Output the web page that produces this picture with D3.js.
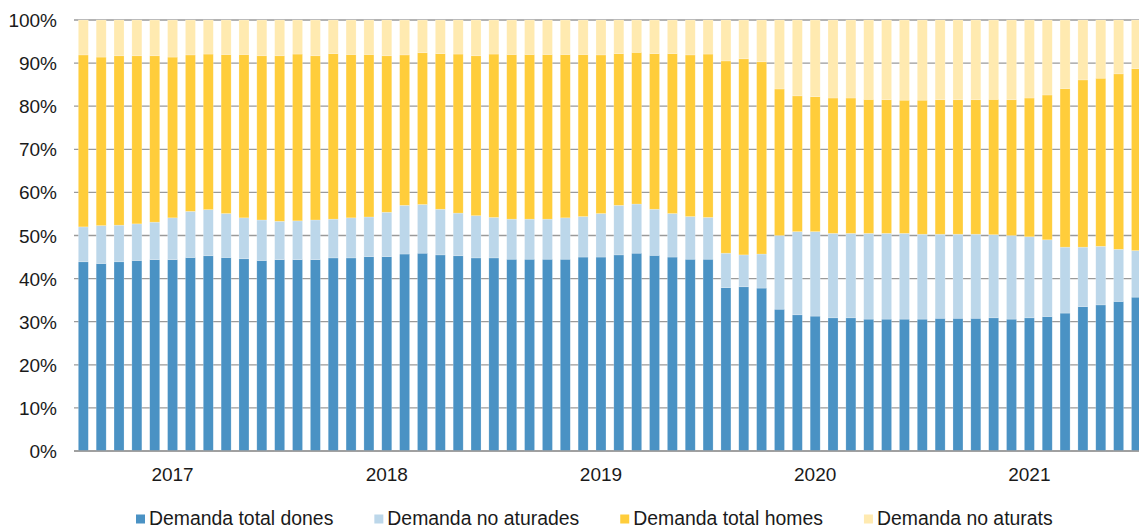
<!DOCTYPE html>
<html>
<head>
<meta charset="utf-8">
<script src="https://cdn.jsdelivr.net/npm/d3@7"></script>
<style>
  html, body { margin: 0; padding: 0; background: #fff; }
  svg { display: block; }
  text { font-family: "Liberation Sans", Arial, sans-serif; fill: #1a1a1a; }
</style>
</head>
<body>
<div id="chart"></div>
<script>
// ---- Data (shares, %), monthly Jan 2017 - Dec 2021 ----
const years = ["2017", "2018", "2019", "2020", "2021"];
const monthsPerYear = 12;
const months = years.flatMap(y => d3.range(1, 13).map(m => y + "-" + String(m).padStart(2, "0")));

const seriesNames = ["Demanda total dones", "Demanda no aturades", "Demanda total homes", "Demanda no aturats"];
const seriesColors = ["#4a92c4", "#bcd7ea", "#ffcd3b", "#ffeab0"];

const demandaTotalDones = [
  43.9, 43.5, 43.9, 44.2, 44.4, 44.4, 44.9, 45.3, 44.9, 44.6, 44.2, 44.4,
  44.4, 44.4, 44.8, 44.8, 45.1, 45.1, 45.7, 45.9, 45.5, 45.3, 44.8, 44.8,
  44.5, 44.5, 44.5, 44.5, 45.0, 45.0, 45.5, 45.9, 45.4, 45.0, 44.5, 44.5,
  37.9, 38.1, 37.8, 32.9, 31.6, 31.3, 30.9, 30.9, 30.6, 30.6, 30.6, 30.6,
  30.8, 30.8, 30.8, 30.9, 30.6, 30.9, 31.2, 32.0, 33.5, 33.9, 34.7, 35.7
];
const demandaNoAturades = [
  8.1, 8.8, 8.5, 8.5, 8.7, 9.7, 10.7, 10.7, 10.2, 9.5, 9.4, 8.9,
  9.0, 9.2, 9.0, 9.3, 9.2, 10.3, 11.3, 11.3, 10.6, 9.9, 9.8, 9.4,
  9.3, 9.3, 9.3, 9.6, 9.4, 10.1, 11.5, 11.4, 10.7, 10.1, 9.9, 9.7,
  8.0, 7.4, 7.9, 17.1, 19.3, 19.6, 19.6, 19.6, 19.9, 19.9, 19.9, 19.7,
  19.5, 19.5, 19.5, 19.3, 19.4, 18.8, 17.8, 15.3, 13.8, 13.6, 12.1, 10.8
];
const demandaTotalHomes = [
  39.9, 39.1, 39.3, 39.0, 38.6, 37.3, 36.3, 36.1, 36.9, 37.9, 38.1, 38.4,
  38.7, 38.1, 38.4, 37.9, 37.7, 36.3, 34.9, 35.2, 36.1, 36.9, 37.1, 37.9,
  38.2, 38.2, 38.2, 37.9, 37.6, 36.8, 35.2, 35.2, 36.1, 37.1, 37.5, 37.9,
  44.6, 45.5, 44.6, 34.0, 31.5, 31.3, 31.4, 31.4, 31.1, 31.0, 30.9, 31.1,
  31.2, 31.2, 31.2, 31.4, 31.5, 32.2, 33.6, 36.8, 38.8, 39.0, 40.7, 42.2
];
const demandaNoAturats = [
  8.1, 8.6, 8.3, 8.3, 8.3, 8.6, 8.1, 7.9, 8.0, 8.0, 8.3, 8.3,
  7.9, 8.3, 7.8, 8.0, 8.0, 8.3, 8.1, 7.6, 7.8, 7.9, 8.3, 7.9,
  8.0, 8.0, 8.0, 8.0, 8.0, 8.1, 7.8, 7.5, 7.8, 7.8, 8.1, 7.9,
  9.5, 9.0, 9.7, 16.0, 17.6, 17.8, 18.1, 18.1, 18.4, 18.5, 18.6, 18.6,
  18.5, 18.5, 18.5, 18.4, 18.5, 18.1, 17.4, 15.9, 13.9, 13.5, 12.5, 11.3
];
const yTicks = [0, 0.1, 0.2, 0.3, 0.4, 0.5, 0.6, 0.7, 0.8, 0.9, 1.0];

// ---- Build table ----
const seriesValues = [demandaTotalDones, demandaNoAturades, demandaTotalHomes, demandaNoAturats];
const table = months.map((m, i) => {
  const row = { month: m };
  seriesNames.forEach((s, k) => row[s] = seriesValues[k][i]);
  return row;
});

// ---- Layout ----
const W = 1139, H = 529;
const svg = d3.select("#chart").append("svg").attr("width", W).attr("height", H);

const x = d3.scaleBand().domain(months).range([74.4, 1145.4]).paddingInner(0.44).paddingOuter(0.22);
const y = d3.scaleLinear().domain([0, 1]).range([451, 20]);

// gridlines
svg.append("g").selectAll("line").data(yTicks).join("line")
  .attr("x1", 74).attr("x2", W)
  .attr("y1", d => y(d)).attr("y2", d => y(d))
  .attr("stroke", "#9a9a9a").attr("stroke-width", 1.3);

// y labels
svg.append("g").selectAll("text").data(yTicks).join("text")
  .attr("x", 57).attr("y", d => y(d) + 7)
  .attr("text-anchor", "end")
  .style("font-size", "19px")
  .text(d => d3.format(".0%")(d));

// stacked bars
const stack = d3.stack().keys(seriesNames).offset(d3.stackOffsetExpand);
const layers = stack(table);
svg.append("g").selectAll("g").data(layers).join("g")
  .attr("fill", (d, i) => seriesColors[i])
  .selectAll("rect").data(d => d).join("rect")
  .attr("x", d => x(d.data.month))
  .attr("width", x.bandwidth())
  .attr("y", d => y(d[1]))
  .attr("height", d => y(d[0]) - y(d[1]))
  .attr("stroke", "#ffffff").attr("stroke-opacity", 0.35).attr("stroke-width", 0.6);

// baseline
svg.append("line").attr("x1", 74).attr("x2", W).attr("y1", y(0)).attr("y2", y(0))
  .attr("stroke", "#9a9a9a").attr("stroke-width", 1.3);

// year labels
svg.append("g").selectAll("text").data(years).join("text")
  .attr("x", (d, i) => x(months[i * monthsPerYear + 5]) + x.bandwidth() / 2)
  .attr("y", 481)
  .attr("text-anchor", "middle")
  .style("font-size", "19px")
  .text(d => d);

// legend
const legend = svg.append("g");
let lx = 136;
seriesNames.forEach((s, i) => {
  const g = legend.append("g").attr("transform", `translate(${lx},0)`);
  g.append("rect").attr("x", 0).attr("y", 514.5).attr("width", 9).attr("height", 9).attr("fill", seriesColors[i]);
  const t = g.append("text").attr("x", 13).attr("y", 525).style("font-size", "19.4px").text(s);
  lx += 13 + t.node().getComputedTextLength() + 41;
});
</script>
</body>
</html>
